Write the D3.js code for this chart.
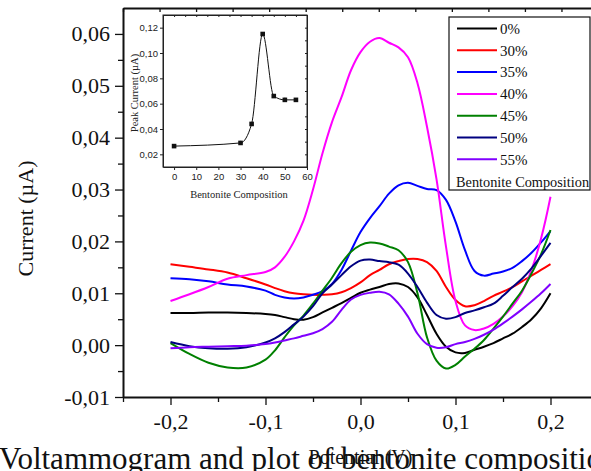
<!DOCTYPE html>
<html>
<head>
<meta charset="utf-8">
<script src="https://cdn.jsdelivr.net/npm/d3@7"></script>
<style>
  html, body { margin: 0; padding: 0; background: #fff; overflow: hidden; }
  svg { display: block; }
</style>
</head>
<body>
<svg id="chart" width="591" height="471"></svg>
<script>
// potential grid (V)
const potential = [-0.2, -0.18, -0.16, -0.14, -0.12, -0.1, -0.09, -0.08, -0.07, -0.06, -0.05, -0.04,
  -0.03, -0.02, -0.01, 0, 0.01, 0.02, 0.03, 0.04, 0.05, 0.06, 0.07, 0.08, 0.09, 0.1,
  0.11, 0.12, 0.13, 0.14, 0.15, 0.16, 0.17, 0.18, 0.19, 0.2];

const seriesNames = ['0%', '30%', '35%', '40%', '45%', '50%', '55%'];
const seriesColors = ['#000000', '#ff0000', '#0000ff', '#ff00ff', '#008000', '#000080', '#8000ff'];

const current0 = [0.0062, 0.0062, 0.0063, 0.0063, 0.0062, 0.0060, 0.0058, 0.0054, 0.0050, 0.0049, 0.0054, 0.0063,
  0.0072, 0.0081, 0.0091, 0.0101, 0.0107, 0.0112, 0.0118, 0.0119, 0.0112, 0.0092, 0.0058, 0.0022, -0.0003, -0.0014,
  -0.0015, -0.0009, -0.0003, 0.0004, 0.0013, 0.0022, 0.0035, 0.0050, 0.0071, 0.0100];
const current30 = [0.0156, 0.0151, 0.0146, 0.0140, 0.0129, 0.0117, 0.0110, 0.0104, 0.0100, 0.0098, 0.0097, 0.0097,
  0.0098, 0.0102, 0.0110, 0.0121, 0.0135, 0.0145, 0.0156, 0.0162, 0.0166, 0.0166, 0.0160, 0.0143, 0.0112, 0.0087,
  0.0075, 0.0077, 0.0085, 0.0095, 0.0103, 0.0112, 0.0123, 0.0134, 0.0145, 0.0156];
const current35 = [0.0129, 0.0127, 0.0123, 0.0117, 0.0113, 0.0105, 0.0097, 0.0092, 0.0090, 0.0092, 0.0097, 0.0104,
  0.0118, 0.0145, 0.0182, 0.0218, 0.0245, 0.0268, 0.0292, 0.0308, 0.0313, 0.0307, 0.0301, 0.0299, 0.0280, 0.0238,
  0.0183, 0.0143, 0.0134, 0.0138, 0.0142, 0.0149, 0.0162, 0.0178, 0.0198, 0.0220];
const current40 = [0.0085, 0.0098, 0.0112, 0.0128, 0.0135, 0.0141, 0.0150, 0.0170, 0.0200, 0.0240, 0.0300, 0.0370,
  0.0430, 0.0478, 0.0530, 0.0565, 0.0585, 0.0592, 0.0583, 0.0574, 0.0555, 0.0505, 0.0421, 0.0320, 0.0190, 0.0085,
  0.0038, 0.0029, 0.0032, 0.0041, 0.0055, 0.0075, 0.0102, 0.0145, 0.0205, 0.0286];
const current45 = [0.0004, -0.0017, -0.0034, -0.0043, -0.0043, -0.0028, -0.0010, 0.0015, 0.0038, 0.0057, 0.0080, 0.0105,
  0.0130, 0.0158, 0.0180, 0.0193, 0.0198, 0.0196, 0.0190, 0.0183, 0.0160, 0.0100, 0.0015, -0.0030, -0.0045, -0.0038,
  -0.0022, -0.0007, 0.0010, 0.0032, 0.0055, 0.0080, 0.0105, 0.0138, 0.0175, 0.0222];
const current50 = [0.0006, -0.0002, -0.0006, -0.0007, -0.0004, 0.0005, 0.0013, 0.0025, 0.0040, 0.0055, 0.0075, 0.0100,
  0.0117, 0.0135, 0.0152, 0.0163, 0.0165, 0.0162, 0.0160, 0.0155, 0.0138, 0.0112, 0.0082, 0.0058, 0.0051, 0.0054,
  0.0062, 0.0067, 0.0073, 0.0080, 0.0095, 0.0112, 0.0128, 0.0148, 0.0172, 0.0197];
const current55 = [-0.0006, -0.0004, -0.0003, -0.0002, -0.0001, 0.0002, 0.0005, 0.0009, 0.0013, 0.0018, 0.0023, 0.0031,
  0.0045, 0.0068, 0.0088, 0.0097, 0.0101, 0.0103, 0.0098, 0.0080, 0.0055, 0.0022, 0.0002, -0.0005, -0.0004, 0.0002,
  0.0006, 0.0012, 0.0020, 0.0030, 0.0042, 0.0055, 0.0069, 0.0084, 0.0100, 0.0118];
const seriesValues = [current0, current30, current35, current40, current45, current50, current55];

// inset: peak current vs bentonite composition
const insetComposition = [0, 30, 35, 40, 45, 50, 55];
const insetPeak = [0.0265, 0.029, 0.044, 0.115, 0.066, 0.063, 0.063];
const insetError = [0.001, 0.0016, 0.0005, 0.0006, 0.0008, 0.0017, 0.0005];

const xMajor = [-0.2, -0.1, 0, 0.1, 0.2];
const xMinor = [-0.25, -0.15, -0.05, 0.05, 0.15, 0.25];
const yMajor = [-0.01, 0, 0.01, 0.02, 0.03, 0.04, 0.05, 0.06];
const yMinor = [-0.005, 0.005, 0.015, 0.025, 0.035, 0.045, 0.055];
const insetXTicks = [0, 10, 20, 30, 40, 50, 60];
const insetYTicks = [0.02, 0.04, 0.06, 0.08, 0.1, 0.12];

const loc = d3.formatLocale({ decimal: ',', thousands: '.', grouping: [3], currency: ['', ''], minus: '-' });
const serif = '"Liberation Serif", "Times New Roman", serif';
const sans = '"Liberation Sans Narrow", "Liberation Sans", Arial, sans-serif';

const svg = d3.select('#chart');
const mLeft = 123, mRight = 598, mTop = 8, mBottom = 397;

const x = d3.scaleLinear().domain([-0.25, 0.25]).range([mLeft, mRight]);
const y = d3.scaleLinear().domain([-0.01, 0.065]).range([mBottom, mTop]);

// minor ticks
svg.append('g')
  .attr('transform', `translate(${mLeft},0)`)
  .call(d3.axisLeft(y).tickValues(yMinor).tickSize(5).tickFormat(''))
  .call((g) => g.select('.domain').remove());
svg.append('g')
  .attr('transform', `translate(0,${mBottom})`)
  .call(d3.axisBottom(x).tickValues(xMinor).tickSize(5).tickFormat(''))
  .call((g) => g.select('.domain').remove());

const yAxis = svg.append('g')
  .attr('transform', `translate(${mLeft},0)`)
  .call(d3.axisLeft(y).tickValues(yMajor).tickSize(8).tickSizeOuter(0).tickPadding(5).tickFormat(loc.format('.2f')));
const xAxis = svg.append('g')
  .attr('transform', `translate(0,${mBottom})`)
  .call(d3.axisBottom(x).tickValues(xMajor).tickSize(8).tickSizeOuter(0).tickPadding(8).tickFormat(loc.format('.1f')));

// top frame with inward ticks
const topScale = d3.scaleLinear().domain([0, 13]).range([mLeft, mRight]);
svg.append('g')
  .attr('transform', `translate(0,${mTop})`)
  .call(d3.axisBottom(topScale).ticks(13).tickSize(4).tickSizeOuter(0).tickFormat(''));

svg.selectAll('.domain').attr('stroke', '#111').attr('stroke-width', 2);
svg.selectAll('.tick line').attr('stroke', '#111').attr('stroke-width', 1.3);
[yAxis, xAxis].forEach((g) => g.attr('font-family', serif).selectAll('text')
  .attr('font-size', 22)
  .attr('fill', '#111'));

// curves
const line = d3.line()
  .x((d) => x(d[0]))
  .y((d) => y(d[1]))
  .curve(d3.curveCatmullRom.alpha(0.5));

svg.append('g')
  .selectAll('path')
  .data(seriesValues)
  .join('path')
  .attr('fill', 'none')
  .attr('stroke', (d, i) => seriesColors[i])
  .attr('stroke-width', 2)
  .attr('d', (vals) => line(potential.map((p, i) => [p, vals[i]])));

// axis titles
svg.append('text')
  .attr('transform', `translate(33,${(mTop + mBottom) / 2 + 16}) rotate(-90)`)
  .attr('text-anchor', 'middle')
  .attr('font-family', serif)
  .attr('font-size', 22)
  .attr('fill', '#111')
  .text('Current (µA)');

svg.append('text')
  .attr('x', -1)
  .attr('y', 469)
  .attr('font-family', serif)
  .attr('font-size', 31)
  .attr('fill', '#111')
  .text('Voltammogram and plot of bentonite composition');

svg.append('text')
  .attr('x', x(0))
  .attr('y', 464)
  .attr('text-anchor', 'middle')
  .attr('font-family', serif)
  .attr('font-size', 20)
  .attr('fill', '#111')
  .text('Potential (V)');

// legend
const legend = svg.append('g').attr('font-family', serif);
legend.append('rect')
  .attr('x', 449).attr('y', 17).attr('width', 141).attr('height', 173)
  .attr('fill', '#fff').attr('stroke', '#111').attr('stroke-width', 1.2);
const rows = legend.selectAll('g.row')
  .data(seriesNames)
  .join('g')
  .attr('class', 'row')
  .attr('transform', (d, i) => `translate(0,${28.5 + i * 21.8})`);
rows.append('line')
  .attr('x1', 457).attr('x2', 497)
  .attr('stroke', (d, i) => seriesColors[i])
  .attr('stroke-width', 2);
rows.append('text')
  .attr('x', 500).attr('dy', '0.35em')
  .attr('font-size', 15)
  .attr('fill', '#111')
  .text((d) => d);
legend.append('text')
  .attr('x', 456).attr('y', 186.5)
  .attr('font-size', 14.3)
  .attr('fill', '#111')
  .text('Bentonite Composition');

// inset
const ix = d3.scaleLinear().domain([-5, 60]).range([163, 307]);
const iy = d3.scaleLinear().domain([0.01, 0.13]).range([167, 15]);
const inset = svg.append('g');
inset.append('rect')
  .attr('x', ix(-5)).attr('y', iy(0.13))
  .attr('width', ix(60) - ix(-5)).attr('height', iy(0.01) - iy(0.13))
  .attr('fill', '#fff').attr('stroke', '#222').attr('stroke-width', 1);

const iyAxis = inset.append('g')
  .attr('transform', `translate(${ix(-5)},0)`)
  .call(d3.axisLeft(iy).tickValues(insetYTicks).tickSize(3).tickSizeOuter(0).tickPadding(2).tickFormat(loc.format('.2f')));
const ixAxis = inset.append('g')
  .attr('transform', `translate(0,${iy(0.01)})`)
  .call(d3.axisBottom(ix).tickValues(insetXTicks).tickSize(3).tickSizeOuter(0).tickPadding(3));
inset.append('g')
  .attr('transform', `translate(${ix(60)},0)`)
  .call(d3.axisLeft(iy).ticks(12).tickSize(2).tickSizeOuter(0).tickFormat(''));
inset.append('g')
  .attr('transform', `translate(0,${iy(0.13)})`)
  .call(d3.axisBottom(ix).ticks(13).tickSize(2).tickSizeOuter(0).tickFormat(''));
inset.selectAll('.domain').attr('stroke', '#222').attr('stroke-width', 1);
inset.selectAll('.tick line').attr('stroke', '#222');
[iyAxis, ixAxis].forEach((g) => g.attr('font-family', sans).selectAll('text')
  .attr('font-size', 9.5)
  .attr('fill', '#222'));

const insetPts = insetComposition.map((c, i) => ({ c, v: insetPeak[i], e: insetError[i] }));
inset.append('path')
  .datum(insetPts)
  .attr('fill', 'none')
  .attr('stroke', '#111')
  .attr('stroke-width', 1)
  .attr('d', d3.line().x((d) => ix(d.c)).y((d) => iy(d.v)).curve(d3.curveMonotoneX));
inset.selectAll('line.err')
  .data(insetPts)
  .join('line')
  .attr('class', 'err')
  .attr('x1', (d) => ix(d.c)).attr('x2', (d) => ix(d.c))
  .attr('y1', (d) => iy(d.v - d.e)).attr('y2', (d) => iy(d.v + d.e))
  .attr('stroke', '#111').attr('stroke-width', 1.2);
inset.selectAll('rect.pt')
  .data(insetPts)
  .join('rect')
  .attr('class', 'pt')
  .attr('x', (d) => ix(d.c) - 2.3).attr('y', (d) => iy(d.v) - 2.3)
  .attr('width', 4.6).attr('height', 4.6)
  .attr('fill', '#111');

inset.append('text')
  .attr('x', (ix(-5) + ix(60)) / 2 + 4)
  .attr('y', 198)
  .attr('text-anchor', 'middle')
  .attr('font-family', serif)
  .attr('font-size', 10.5)
  .attr('fill', '#222')
  .text('Bentonite Composition');
inset.append('text')
  .attr('transform', `translate(138,${(iy(0.13) + iy(0.01)) / 2 + 2}) rotate(-90)`)
  .attr('text-anchor', 'middle')
  .attr('font-family', serif)
  .attr('font-size', 10.5)
  .attr('fill', '#222')
  .text('Peak Current (µA)');
</script>
</body>
</html>
